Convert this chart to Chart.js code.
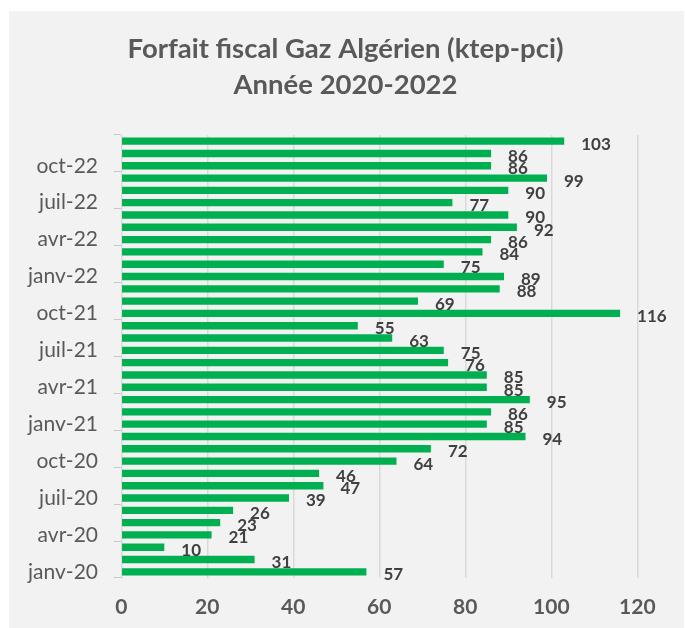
<!DOCTYPE html>
<html><head><meta charset="utf-8">
<script src="https://cdn.jsdelivr.net/npm/chart.js@4/dist/chart.umd.min.js"></script>
<style>
html,body{margin:0;padding:0;background:#fff;}
#panel{position:absolute;left:9px;top:11px;width:675px;height:617px;background:#f2f2f2;}
canvas{display:block;}
</style></head><body>
<div id="panel"><canvas id="c" width="675" height="617"></canvas></div>
<script>
const months = [
  'janv-20','févr-20','mars-20','avr-20','mai-20','juin-20','juil-20','août-20','sept-20','oct-20','nov-20','déc-20',
  'janv-21','févr-21','mars-21','avr-21','mai-21','juin-21','juil-21','août-21','sept-21','oct-21','nov-21','déc-21',
  'janv-22','févr-22','mars-22','avr-22','mai-22','juin-22','juil-22','août-22','sept-22','oct-22','nov-22','déc-22'
];
const values = [
  57, 31, 10, 21, 23, 26, 39, 47, 46, 64, 72, 94,
  85, 86, 95, 85, 85, 76, 75, 63, 55, 116, 69, 88,
  89, 75, 84, 86, 92, 90, 77, 90, 99, 86, 86, 103
];
const titleLines = ['Forfait fiscal Gaz Algérien (ktep-pci)', 'Année 2020-2022'];
const xMin = 0, xMax = 120, xStep = 20;

const valueLabels = {
  id: 'valueLabels',
  afterDatasetsDraw(chart) {
    const ctx = chart.ctx;
    const meta = chart.getDatasetMeta(0);
    ctx.save();
    ctx.font = 'bold 17px Lato';
    ctx.fillStyle = '#404040';
    ctx.textAlign = 'left';
    ctx.textBaseline = 'middle';
    meta.data.forEach((bar, i) => {
      ctx.fillText(String(values[i]), bar.x + 17, bar.y + 3);
    });
    ctx.restore();
  }
};

new Chart(document.getElementById('c'), {
  type: 'bar',
  data: {
    labels: months,
    datasets: [{
      data: values,
      backgroundColor: '#00b050',
      borderWidth: 0,
      barPercentage: 0.6,
      categoryPercentage: 1
    }]
  },
  options: {
    indexAxis: 'y',
    responsive: false,
    animation: false,
    devicePixelRatio: 1,
    layout: { padding: { left: 9, right: 11, top: 0, bottom: 8 } },
    plugins: {
      legend: { display: false },
      tooltip: { enabled: false },
      title: {
        display: true,
        text: titleLines,
        color: '#595959',
        font: { family: 'Lato', size: 27.5, weight: 'bold', lineHeight: 36 / 27.5 },
        padding: { top: 20.5, bottom: 31.5 }
      }
    },
    scales: {
      x: {
        min: xMin, max: xMax,
        afterFit(scale) { scale.height = 42; },
        ticks: { stepSize: xStep, color: '#595959', font: { family: 'Lato', size: 21, weight: 'bold' }, padding: 17 },
        grid: { color: '#d9d9d9', lineWidth: 1.5, drawTicks: false },
        border: { display: false }
      },
      y: {
        reverse: true,
        afterFit(scale) { scale.width = 103.3; },
        ticks: {
          autoSkip: false,
          color: '#595959',
          font: { family: 'Lato', size: 21 },
          padding: 15.8,
          callback: (v, i) => (i % 3 === 0 ? months[i] : '')
        },
        grid: {
          offset: true,
          drawOnChartArea: false,
          tickLength: 7.5,
          tickColor: (c) => (c.index === undefined || c.index % 3 === 0 ? '#c8c8c8' : 'rgba(0,0,0,0)'),
          color: '#d9d9d9'
        },
        border: { display: true, color: '#d9d9d9', width: 1 }
      },
      yRightSpace: {
        type: 'category',
        position: 'right',
        display: true,
        afterFit(scale) { scale.width = 35.7; },
        ticks: { display: false },
        grid: { display: false },
        border: { display: false }
      }
    }
  },
  plugins: [valueLabels]
});
</script>
</body></html>
